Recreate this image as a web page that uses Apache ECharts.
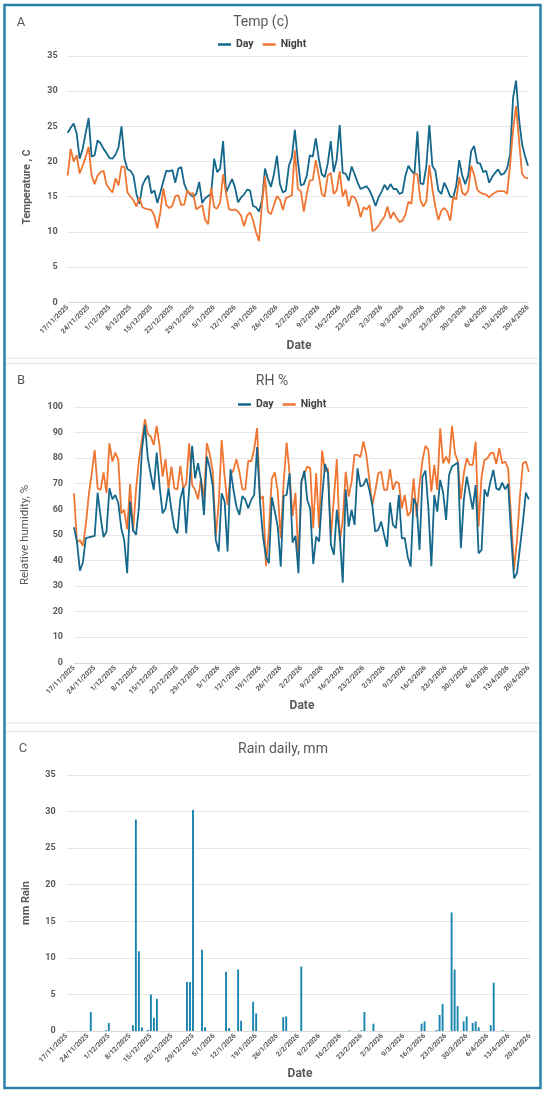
<!DOCTYPE html>
<html>
<head>
<meta charset="utf-8">
<script src="https://cdn.jsdelivr.net/npm/echarts@6.0.0/dist/echarts.min.js"></script>
<style>
html,body{margin:0;padding:0;background:#fff;}
#chart{width:550px;height:1095px;}
</style>
</head>
<body>
<div id="chart"></div>
<script>
// ---------- data ----------
const startDate = [2025, 11, 17]; // 17/11/2025, daily to 20/4/2026
const nDays = 155;
const dateLabels = [];
for (let i = 0; i < nDays; i++) {
  const dt = new Date(Date.UTC(startDate[0], startDate[1] - 1, startDate[2] + i));
  dateLabels.push(dt.getUTCDate() + '/' + (dt.getUTCMonth() + 1) + '/' + dt.getUTCFullYear());
}

const tempDay = [
24.1,24.8,25.4,24.0,20.4,21.8,24.0,26.2,20.7,20.9,
23.0,22.6,21.8,21.2,20.5,20.4,21.0,22.0,25.0,20.4,
18.9,18.7,18.0,15.4,14.0,16.6,17.5,18.0,15.5,15.9,
14.1,15.6,17.2,18.7,18.6,18.8,17.0,19.0,19.2,16.8,
15.8,15.3,15.0,15.4,17.1,14.1,14.8,15.1,15.4,20.4,
18.5,19.0,22.9,15.6,16.6,17.5,16.3,14.2,14.9,15.3,
16.0,15.9,13.7,13.5,12.9,14.4,19.0,17.5,16.4,18.2,
20.8,16.8,15.6,15.9,19.4,20.6,24.5,20.1,16.6,16.8,
18.0,20.9,20.7,23.3,20.4,18.2,17.8,19.7,22.9,18.5,
20.3,25.2,18.4,18.3,17.3,19.3,18.2,17.0,16.1,16.3,
16.5,15.9,14.9,13.7,14.9,15.7,16.7,16.0,16.8,16.1,
16.1,15.4,15.6,18.0,19.4,18.7,18.2,24.3,16.9,16.8,
19.4,25.2,19.4,18.7,15.9,15.4,17.0,16.1,15.0,14.9,
16.6,20.2,18.0,16.8,18.0,21.5,22.2,19.8,19.7,18.5,
18.7,17.0,17.8,18.4,18.9,18.1,18.3,19.0,21.0,29.0,
31.5,26.0,22.5,20.8,19.4];

const tempNight = [
18.0,21.8,20.0,20.9,18.3,19.4,20.6,22.1,18.0,16.8,
18.0,18.5,18.7,16.7,16.1,15.6,17.6,16.6,19.3,19.2,
15.6,15.0,14.5,13.6,14.9,13.5,13.3,13.2,13.1,12.3,
10.5,12.8,16.2,13.8,13.4,13.7,15.1,15.2,13.8,13.9,
15.9,15.4,15.5,13.2,13.5,13.8,11.7,11.1,16.3,13.5,
13.3,14.2,18.2,15.4,13.2,13.1,13.2,12.9,12.3,10.8,
12.3,12.8,11.7,10.0,8.7,14.0,17.9,12.9,12.5,13.8,
15.1,14.6,13.1,14.8,15.0,15.2,21.6,16.1,15.8,12.9,
15.4,17.3,17.4,20.2,18.0,15.4,15.0,18.0,18.4,15.4,
15.9,18.6,15.0,16.0,13.6,15.1,14.9,14.0,12.1,13.5,
13.2,13.8,10.1,10.4,10.9,11.6,12.2,13.6,11.9,12.8,
12.0,11.4,11.6,12.5,14.3,14.0,18.3,18.2,14.5,13.6,
14.4,19.5,16.1,13.6,11.7,13.0,13.4,12.9,11.6,15.0,
14.6,17.8,15.6,15.2,15.9,19.4,18.1,16.0,15.6,15.4,
15.3,14.9,15.3,15.6,15.8,15.8,15.8,15.4,19.5,24.5,
27.9,23.0,18.3,17.7,17.6];

const rhDay = [
53.0,47.4,36.0,39.2,48.7,49.0,49.3,49.6,66.5,57.1,
49.1,51.3,68.2,63.9,65.6,62.4,52.6,48.0,35.0,63.0,
51.9,50.0,61.1,83.2,93.0,80.0,73.5,67.6,82.2,68.9,
58.4,60.4,68.2,59.8,52.6,50.6,63.9,68.5,50.6,68.2,
84.8,72.1,78.0,71.5,57.8,80.6,76.0,68.9,48.0,43.5,
66.3,63.0,43.5,75.7,67.6,61.1,57.8,65.2,63.7,60.4,
63.7,65.6,84.3,62.6,49.3,41.5,38.9,64.7,59.1,53.2,
37.6,65.2,65.6,74.1,47.0,49.6,35.0,70.8,75.1,63.7,
60.0,38.6,49.3,47.4,64.7,77.7,74.1,46.1,42.2,59.8,
49.6,31.3,67.8,53.2,59.8,53.9,76.0,68.9,69.5,72.1,
67.6,61.7,51.3,51.9,55.2,50.0,45.4,62.6,53.9,52.6,
65.6,48.7,48.7,41.5,37.6,64.3,61.7,44.1,72.8,75.1,
60.4,37.8,65.6,59.1,71.5,66.5,55.8,73.4,76.7,77.5,
78.3,44.8,63.7,72.8,66.3,60.0,69.5,42.8,44.1,67.8,
65.0,70.8,75.4,68.2,67.6,70.4,67.8,69.9,50.0,33.0,
35.0,45.0,55.0,66.5,63.9];

const rhNight = [
66.3,47.0,48.0,45.7,53.9,65.6,74.0,83.2,68.2,67.6,
74.4,66.3,85.8,78.7,82.2,79.3,58.4,59.8,52.2,69.9,
51.3,67.6,79.3,87.1,95.2,89.5,88.4,85.2,92.6,84.5,
72.8,79.6,68.2,76.7,68.2,67.8,77.0,68.2,70.0,85.8,
69.5,67.6,63.9,72.1,64.3,85.8,81.3,74.7,49.3,62.4,
87.1,72.8,61.7,73.4,75.4,79.6,74.7,67.8,67.8,79.0,
78.7,83.5,91.7,63.9,65.2,37.8,51.9,72.1,74.4,67.0,
48.7,70.8,86.1,73.8,57.4,66.5,40.2,70.8,74.0,76.7,
76.0,52.6,74.1,52.6,83.0,74.7,76.0,49.3,64.3,79.6,
47.4,55.8,74.7,65.0,70.8,81.3,81.3,80.4,86.5,81.3,
71.5,61.7,66.9,74.1,74.7,67.6,67.6,75.7,67.6,70.8,
70.2,60.4,65.6,57.4,59.1,72.1,57.1,69.5,79.3,84.8,
83.2,66.9,77.4,67.6,91.7,78.0,80.6,78.0,92.6,81.9,
78.7,64.0,74.1,80.0,77.4,77.4,86.5,53.2,72.8,79.3,
80.0,81.9,82.2,77.7,83.9,78.0,78.7,76.0,57.0,36.3,
48.0,65.0,78.0,78.7,74.7];

const rainDaily = [
0,0,0,0,0,0,0,0,2.6,0,
0,0,0,0.1,1.1,0,0,0,0,0,
0,0,0.8,28.9,10.9,0.5,0,0.15,5.0,1.8,
4.4,0,0,0,0,0,0,0,0,0,
6.7,6.7,30.2,0,0,11.1,0.5,0,0,0,
0,0,0,8.1,0.4,0,0,8.4,1.4,0,
0,0,4.0,2.4,0,0,0,0,0,0,
0,0,1.9,2.0,0,0,0,0,8.8,0,
0,0,0,0,0,0,0,0,0,0,
0,0,0,0,0.1,0,0,0,0.1,2.6,
0,0,1.0,0,0,0,0,0,0,0,
0,0,0,0,0,0,0,0,1.0,1.3,
0,0,0,0.15,2.2,3.7,0,0,16.2,8.4,
3.4,0,1.3,2.0,0,1.1,1.3,0.5,0,0,
0,0.8,6.6,0,0,0.1,0,0,0,0,
0,0,0,0,0];

const tempTicks = {min: 0, max: 35, interval: 5};
const rhTicks = {min: 0, max: 100, interval: 10};
const rainTicks = {min: 0, max: 35, interval: 5};

// ---------- styles ----------
const BLUE = '#15688c';
const ORANGE = '#ef7532';
const BAR = '#1984ad';
const FRAME = '#2b82a8';
const TXT = '#595959';
const FONT = 'Roboto, "Liberation Sans", sans-serif';

function xAxisCfg(gi) {
  return {
    type: 'category', gridIndex: gi, data: dateLabels, boundaryGap: false,
    axisLine: {lineStyle: {color: '#d9d9d9', width: 1}},
    axisTick: {show: false},
    axisLabel: {interval: 6, rotate: 45, fontSize: 7, color: TXT, fontFamily: FONT, fontWeight: 'bold', margin: 4},
    splitLine: {show: false}
  };
}
function yAxisCfg(gi, t, margin) {
  return {
    type: 'value', gridIndex: gi, min: t.min, max: t.max, interval: t.interval,
    axisLine: {show: false}, axisTick: {show: false},
    axisLabel: {fontSize: 9, fontWeight: 'bold', color: TXT, fontFamily: FONT, margin: margin},
    splitLine: {lineStyle: {color: '#e6e6e6', width: 1}}
  };
}
function txt(x, y, text, size, weight, rot, color) {
  return {
    type: 'text', x: x, y: y, rotation: rot || 0, z: 50,
    style: {
      text: text, fontSize: size, fontWeight: weight || 'normal', fontFamily: FONT,
      fill: color || TXT, align: 'center', verticalAlign: 'middle',
      textAlign: 'center', textVerticalAlign: 'middle'
    }
  };
}

const chart = echarts.init(document.getElementById('chart'), null, {renderer: 'canvas'});
chart.setOption({
  animation: false,
  backgroundColor: '#ffffff',
  textStyle: {fontFamily: FONT},
  grid: [
    {left: 67.7, top: 56, width: 460.3, height: 246.3},
    {left: 74, top: 407, width: 454.8, height: 255.8},
    {left: 66.7, top: 775, width: 463.1, height: 256}
  ],
  xAxis: [xAxisCfg(0), xAxisCfg(1), xAxisCfg(2)],
  yAxis: [yAxisCfg(0, tempTicks, 10), yAxisCfg(1, rhTicks, 11), yAxisCfg(2, rainTicks, 11)],
  legend: [
    {left: 213, top: 34, icon: 'rect', itemWidth: 13, itemHeight: 2.5, itemGap: 9,
     textStyle: {fontSize: 10.5, fontWeight: 'bold', color: '#404040', fontFamily: FONT},
     data: ['Day', 'Night']},
    {left: 233, top: 394, icon: 'rect', itemWidth: 13, itemHeight: 2.5, itemGap: 9,
     textStyle: {fontSize: 10.5, fontWeight: 'bold', color: '#404040', fontFamily: FONT},
     data: ['Day', 'Night']}
  ],
  series: [
    {name: 'Day', type: 'line', xAxisIndex: 0, yAxisIndex: 0, data: tempDay, showSymbol: false, symbol: 'none',
     lineStyle: {color: BLUE, width: 1.8}, itemStyle: {color: BLUE}},
    {name: 'Night', type: 'line', xAxisIndex: 0, yAxisIndex: 0, data: tempNight, showSymbol: false, symbol: 'none',
     lineStyle: {color: ORANGE, width: 1.8}, itemStyle: {color: ORANGE}},
    {name: 'Day', type: 'line', xAxisIndex: 1, yAxisIndex: 1, data: rhDay, showSymbol: false, symbol: 'none',
     lineStyle: {color: BLUE, width: 1.8}, itemStyle: {color: BLUE}, z: 3},
    {name: 'Night', type: 'line', xAxisIndex: 1, yAxisIndex: 1, data: rhNight, showSymbol: false, symbol: 'none',
     lineStyle: {color: ORANGE, width: 1.8}, itemStyle: {color: ORANGE}, z: 2},
    {name: 'Rain', type: 'bar', xAxisIndex: 2, yAxisIndex: 2, data: rainDaily, barWidth: 1.9,
     itemStyle: {color: BAR}}
  ],
  graphic: [
    {type: 'rect', z: 100, shape: {x: 4.5, y: 5, width: 536, height: 1083},
     style: {fill: 'none', stroke: FRAME, lineWidth: 2.5}},
    {type: 'line', z: 99, shape: {x1: 6, y1: 358, x2: 539, y2: 358}, style: {stroke: '#e3e3e3', lineWidth: 1}},
    {type: 'line', z: 99, shape: {x1: 6, y1: 363.5, x2: 539, y2: 363.5}, style: {stroke: '#e3e3e3', lineWidth: 1}},
    {type: 'line', z: 99, shape: {x1: 6, y1: 723, x2: 539, y2: 723}, style: {stroke: '#e3e3e3', lineWidth: 1}},
    {type: 'line', z: 99, shape: {x1: 6, y1: 731.5, x2: 539, y2: 731.5}, style: {stroke: '#e3e3e3', lineWidth: 1}},
    txt(21, 23, 'A', 13),
    txt(261, 22, 'Temp (c)', 14),
    txt(27, 187, 'Temperature , C', 10.5, 'bold', Math.PI / 2),
    txt(299, 346, 'Date', 12, 'bold'),
    txt(21, 381, 'B', 13),
    txt(272, 381, 'RH %', 14),
    txt(25, 535, 'Relative humidity, %', 11.5, 'normal', Math.PI / 2),
    txt(302, 706, 'Date', 12, 'bold'),
    txt(23, 749, 'C', 13),
    txt(283, 749, 'Rain daily, mm', 14),
    txt(26, 903, 'mm Rain', 11, 'bold', Math.PI / 2),
    txt(300, 1074, 'Date', 12, 'bold')
  ]
});
</script>
</body>
</html>
